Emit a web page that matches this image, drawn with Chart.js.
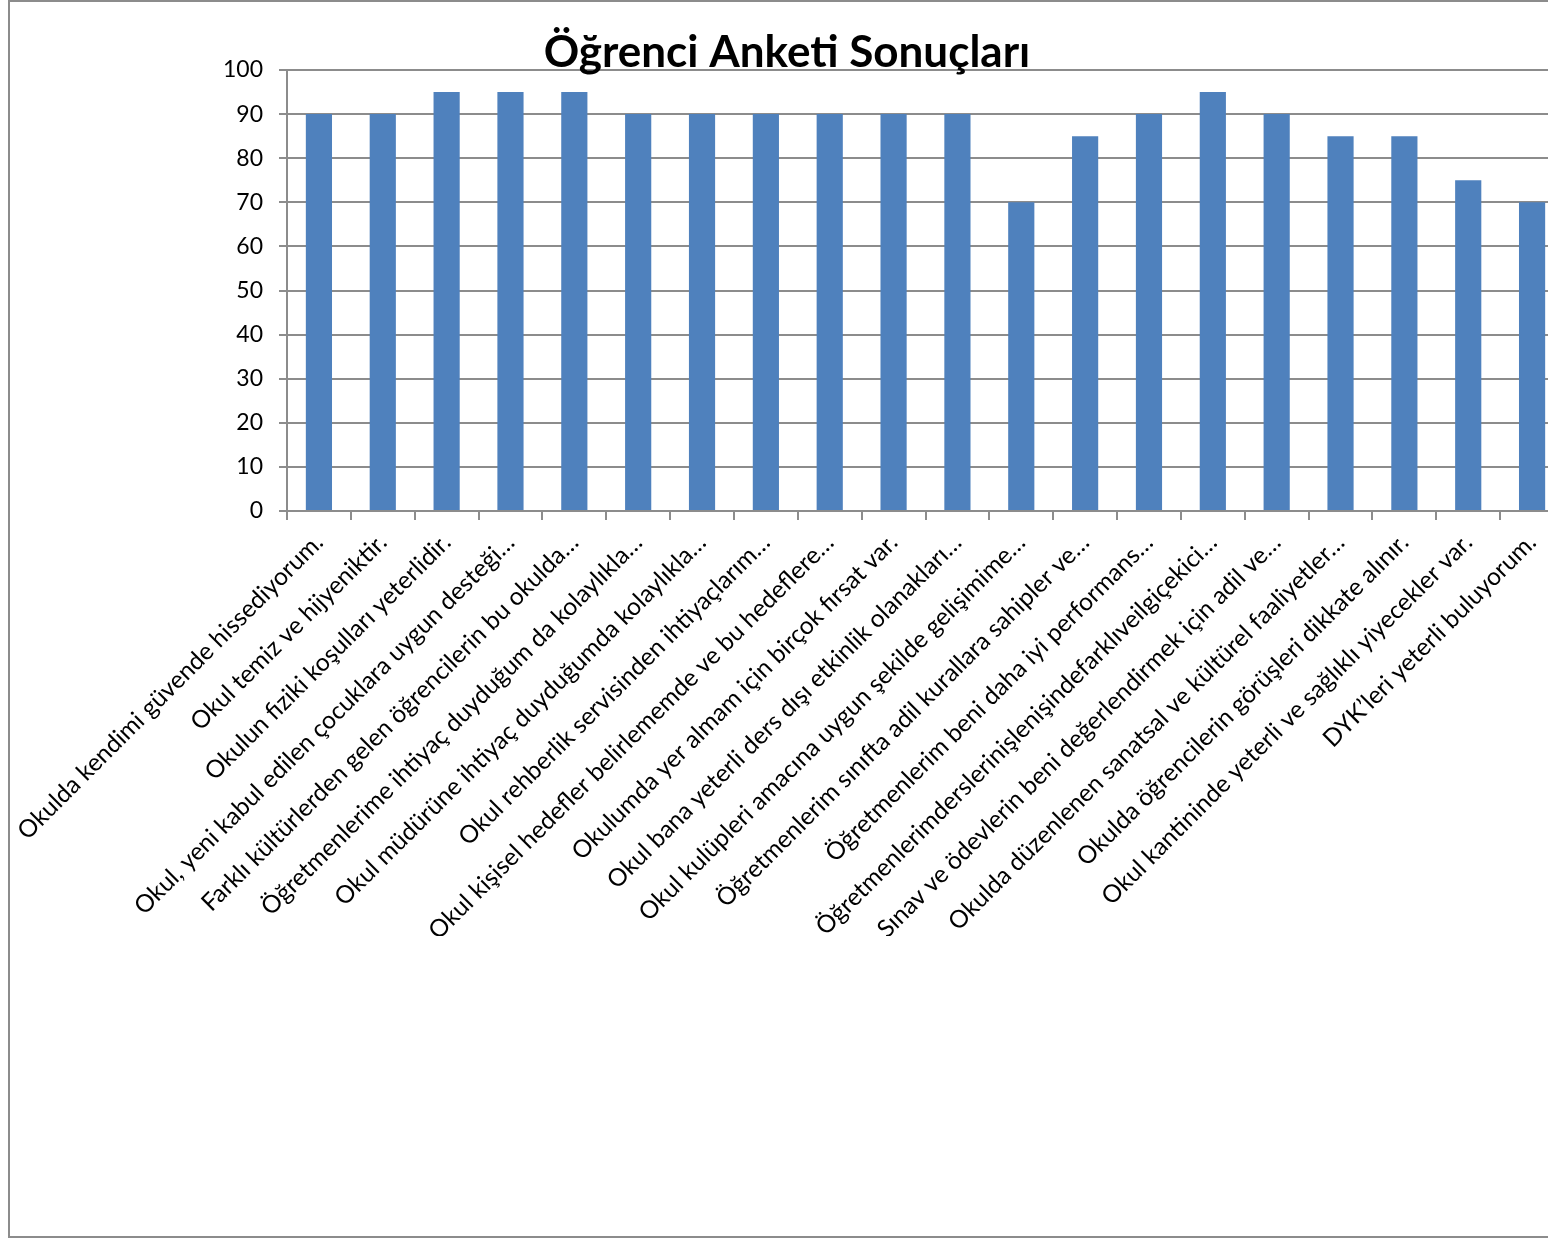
<!DOCTYPE html>
<html>
<head>
<meta charset="utf-8">
<script src="https://cdn.jsdelivr.net/npm/chart.js@4"></script>
<style>
  html, body { margin: 0; padding: 0; background: #fff; overflow: hidden; }
  #frame { position: absolute; left: 8px; top: 0px; width: 1570px; height: 1234px; border: 2px solid #8c8c8c; background: #fff; }
  #wrap { position: relative; width: 1570px; height: 1234px; }
</style>
</head>
<body>
<div id="frame"><div id="wrap"><canvas id="c"></canvas></div></div>
<script>
const chartTitle = "Öğrenci Anketi Sonuçları";
const categories = [
  "Okulda kendimi güvende hissediyorum.",
  "Okul temiz ve hijyeniktir.",
  "Okulun fiziki koşulları yeterlidir.",
  "Okul, yeni kabul edilen çocuklara uygun desteği…",
  "Farklı kültürlerden gelen öğrencilerin bu okulda…",
  "Öğretmenlerime ihtiyaç duyduğum da kolaylıkla…",
  "Okul müdürüne ihtiyaç duyduğumda kolaylıkla…",
  "Okul rehberlik servisinden ihtiyaçlarım…",
  "Okul kişisel hedefler belirlememde ve bu hedeflere…",
  "Okulumda yer almam için birçok fırsat var.",
  "Okul bana yeterli ders dışı etkinlik olanakları…",
  "Okul kulüpleri amacına uygun şekilde gelişimime…",
  "Öğretmenlerim sınıfta adil kurallara sahipler ve…",
  "Öğretmenlerim beni daha iyi performans…",
  "Öğretmenlerimderslerinişlenişindefarklıveilgiçekici…",
  "Sınav ve ödevlerin beni değerlendirmek için adil ve…",
  "Okulda düzenlenen sanatsal ve kültürel faaliyetler…",
  "Okulda öğrencilerin görüşleri dikkate alınır.",
  "Okul kantininde yeterli ve sağlıklı yiyecekler var.",
  "DYK’leri yeterli buluyorum."
];
const values = [90, 90, 95, 95, 95, 90, 90, 90, 90, 90, 90, 70, 85, 90, 95, 90, 85, 85, 75, 70];
const yMin = 0, yMax = 100, yStep = 10;

const gridColor = '#8c8c8c';
new Chart(document.getElementById('c'), {
  type: 'bar',
  data: {
    labels: categories,
    datasets: [{
      data: values,
      backgroundColor: '#4F81BD',
      borderWidth: 0,
      categoryPercentage: 1.0,
      barPercentage: 0.41
    }]
  },
  options: {
    responsive: true,
    maintainAspectRatio: false,
    animation: false,
    devicePixelRatio: 1,
    layout: { padding: { left: 0, right: 16, top: 0, bottom: 300 } },
    plugins: {
      legend: { display: false },
      tooltip: { enabled: false },
      title: {
        display: true,
        text: chartTitle,
        color: '#000',
        font: { family: 'Lato', size: 44, weight: 'bold', lineHeight: 1.0 },
        padding: { top: 29, bottom: -5 }
      }
    },
    scales: {
      x: {
        afterFit: (s) => { s.height = 425; s.paddingLeft = 0; s.paddingRight = 0; },
        grid: { display: true, drawOnChartArea: false, drawTicks: true, tickLength: 9, color: gridColor, lineWidth: 2, offset: true },
        border: { display: true, color: gridColor, width: 2 },
        ticks: { color: '#000', font: { family: 'Lato', size: 24.5 }, maxRotation: 45, minRotation: 45, autoSkip: false, padding: 8 }
      },
      y: {
        min: yMin, max: yMax,
        afterFit: (s) => { s.width = 277; },
        grid: { color: gridColor, lineWidth: 2, tickLength: 8 },
        border: { display: true, color: gridColor, width: 2 },
        ticks: { stepSize: yStep, color: '#000', font: { family: 'Lato', size: 23 }, padding: 16 }
      }
    }
  }
});
</script>
</body>
</html>
